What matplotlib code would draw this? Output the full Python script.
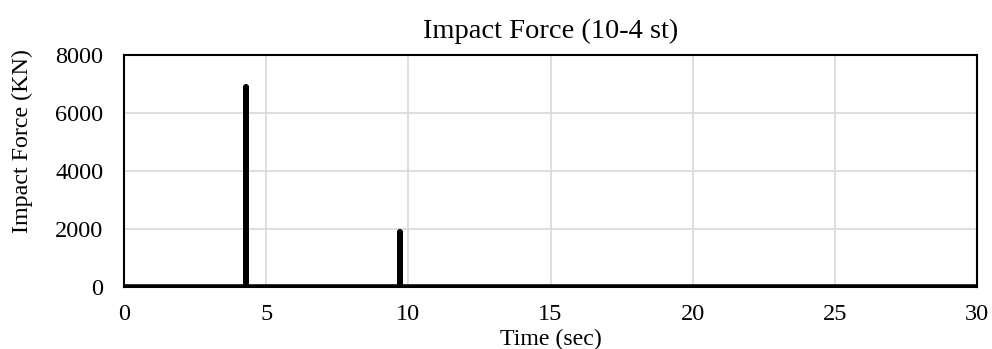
import matplotlib.pyplot as plt

# time (sec) and impact force (KN)
time_sec = [0.0, 4.28, 4.28, 4.28, 9.72, 9.72, 9.72, 30.0]
force_kn = [0.0, 0.0, 6900.0, 0.0, 0.0, 1900.0, 0.0, 0.0]

x_ticks = [0, 5, 10, 15, 20, 25, 30]
y_ticks = [0, 2000, 4000, 6000, 8000]

plt.rcParams['font.family'] = ['Liberation Serif', 'DejaVu Serif']

fig = plt.figure(figsize=(9.92, 3.49), dpi=100)
ax = fig.add_axes([124 / 992, 1 - 287 / 349, (977 - 124) / 992, (287 - 55) / 349])

ax.plot(time_sec, force_kn, color='black', linewidth=4.0, solid_capstyle='round', zorder=3)

ax.set_xlim(0, 30)
ax.set_ylim(0, 8000)
ax.set_xticks(x_ticks)
ax.set_yticks(y_ticks)
ax.grid(True, color='#d9d9d9', linewidth=1.2, zorder=0)
ax.tick_params(axis='both', length=0, labelsize=17.5)
ax.tick_params(axis='y', pad=15)
ax.tick_params(axis='x', pad=12)
for s in ax.spines.values():
    s.set_linewidth(1.5)
    s.set_color('black')

ax.set_title('Impact Force (10-4 st)', fontsize=20.5, pad=12)
ax.set_xlabel('Time (sec)', fontsize=17.2, va='center')
ax.xaxis.set_label_coords(0.5, (287 - 339) / 232)
ax.set_ylabel('Impact Force (KN)', fontsize=17.3, va='center')
ax.yaxis.set_label_coords((22 - 124) / 853, (287 - 141) / 232)

fig.savefig('out.png', dpi=100)
